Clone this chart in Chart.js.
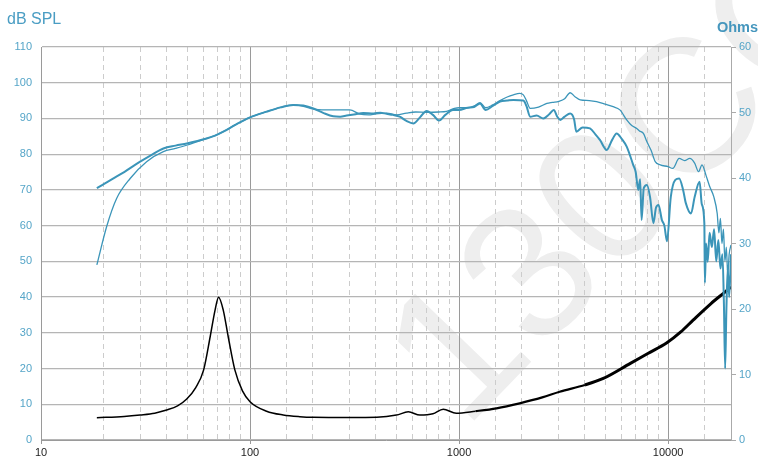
<!DOCTYPE html>
<html>
<head>
<meta charset="utf-8">
<script src="https://cdn.jsdelivr.net/npm/chart.js@4/dist/chart.umd.min.js"></script>
<style>
  html, body { margin: 0; padding: 0; background: #fff; }
  #wrap { width: 758px; height: 457px; position: relative; }
</style>
</head>
<body>
<div id="wrap"><canvas id="spl"></canvas></div>
<script>
// SPL, curve with the shallow bass roll-off (thicker line)
const splAFreq = [18.5, 22, 25, 29.8, 34, 38.5, 44, 49.8, 56, 62, 68, 74.5, 85, 100, 120, 140, 161, 180, 201, 225, 250, 270, 290, 320, 348, 390, 420, 450, 483, 520, 560, 604, 650, 700, 750, 802, 860, 935, 1000, 1100, 1180, 1260, 1340, 1450, 1570, 1700, 1820, 2030, 2100, 2190, 2350, 2530, 2700, 2840, 2950, 3050, 3200, 3400, 3550, 3640, 3900, 4230, 4500, 4720, 5090, 5400, 5670, 6000, 6340, 6810, 7000, 7200, 7350, 7470, 7650, 7920, 8200, 8510, 8750, 9000, 9340, 9600, 9880, 10300, 10830, 11300, 11800, 12160, 12870, 13400, 14150, 14500, 14910, 15000, 15200, 15470, 15800, 16200, 16600, 17000, 17400, 17800, 18200, 18500, 18750, 19000, 19300, 19600, 20000];
const splA = [70.5, 73.1, 75.0, 77.9, 79.9, 81.6, 82.4, 83.0, 83.7, 84.4, 85.2, 86.3, 88.2, 90.3, 91.9, 93.1, 93.8, 93.6, 92.8, 91.5, 90.6, 90.5, 90.8, 91.2, 91.5, 91.4, 91.6, 91.3, 91.0, 90.5, 89.3, 88.6, 90.3, 92.1, 91.0, 89.4, 91.0, 92.4, 92.4, 93.0, 93.2, 94.2, 92.4, 93.5, 94.7, 95.0, 95.2, 95.0, 93.5, 90.5, 90.8, 90.0, 91.2, 92.4, 90.5, 89.6, 90.5, 91.4, 89.8, 86.3, 87.5, 87.2, 85.5, 84.0, 81.2, 84.0, 85.8, 84.3, 82.1, 77.0, 75.0, 70.0, 73.0, 61.6, 70.5, 71.4, 68.0, 60.7, 65.0, 65.8, 61.6, 60.0, 55.6, 68.0, 72.8, 73.2, 70.0, 66.3, 63.4, 68.0, 72.3, 66.0, 60.7, 44.0, 55.0, 49.9, 58.0, 54.0, 59.0, 50.0, 56.0, 48.0, 52.0, 38.0, 20.0, 36.0, 48.0, 40.0, 52.0];

// SPL, curve with the steep bass roll-off (thinner line)
const splBFreq = [18.5, 20.6, 23, 26.7, 32, 38.5, 44, 49.8, 56, 62, 68, 74.5, 85, 100, 120, 140, 161, 180, 201, 230, 260, 300, 336, 370, 400, 450, 503, 560, 620, 700, 800, 870, 950, 1000, 1100, 1180, 1260, 1340, 1450, 1570, 1700, 1820, 1950, 2030, 2100, 2190, 2400, 2630, 2800, 3000, 3200, 3400, 3600, 3800, 4200, 4550, 5000, 5460, 5880, 6340, 6700, 7080, 7300, 7620, 7920, 8300, 8680, 9180, 10000, 10530, 11300, 12000, 12700, 13400, 13990, 14530, 15200, 15800, 16540, 17180, 17500, 17800, 18100, 18400, 18700, 19000, 19300, 19600, 20000];
const splB = [49.0, 59.7, 67.6, 73.2, 77.9, 80.7, 81.6, 82.5, 83.5, 84.4, 85.2, 86.3, 88.2, 90.3, 91.9, 93.1, 93.8, 93.4, 92.6, 92.4, 92.4, 92.4, 91.2, 91.0, 91.3, 91.5, 91.0, 91.5, 91.8, 91.7, 91.8, 92.0, 92.8, 93.0, 93.0, 93.5, 94.4, 93.0, 93.8, 95.0, 96.0, 96.6, 97.0, 96.6, 95.0, 92.8, 93.2, 94.2, 94.5, 94.8, 95.5, 97.2, 96.0, 95.2, 95.0, 94.7, 94.0, 93.3, 92.4, 89.6, 88.0, 87.2, 86.5, 85.8, 83.5, 81.0, 77.9, 77.0, 76.5, 76.0, 78.8, 78.2, 78.8, 77.5, 75.1, 77.0, 74.0, 71.0, 68.1, 63.4, 58.0, 62.0, 55.0, 59.0, 50.0, 54.0, 46.0, 52.0, 54.6];

// impedance (Ohms, right axis)
const impFreq = [18.5, 25, 29.8, 35, 39.9, 45, 49.8, 55, 60, 64.5, 68, 70.7, 74.5, 78.6, 84.6, 92, 100, 120, 144, 173, 201, 300, 404, 502, 572, 650, 750, 840, 970, 1200, 1510, 1950, 2500, 3030, 4000, 4900, 6600, 8000, 9830, 11500, 13170, 16000, 19700, 20000];
const impOhm = [3.41, 3.6, 3.82, 4.1, 4.58, 5.2, 6.25, 8.0, 10.7, 15.8, 19.8, 21.8, 19.8, 15.8, 10.7, 7.5, 5.85, 4.4, 3.82, 3.56, 3.46, 3.42, 3.46, 3.8, 4.3, 3.8, 4.0, 4.7, 4.07, 4.4, 4.84, 5.6, 6.5, 7.37, 8.4, 9.4, 11.7, 13.2, 14.8, 16.5, 18.3, 20.8, 23.2, 23.4];

const decadeLabels = [10, 100, 1000, 10000];

const BLUE = '#3b95b9';
const LABEL = '#55a5c8';

const pts = (xs, ys) => xs.map((x, i) => ({ x: x, y: ys[i] }));
const isDecade = v => decadeLabels.some(d => Math.abs(v - d) < 1e-6);

const backdrop = {
  id: 'backdrop',
  beforeDraw(chart) {
    const ctx = chart.ctx;
    ctx.save();
    ctx.translate(632, 182);
    ctx.rotate(-46 * Math.PI / 180);
    ctx.font = '190px "Liberation Sans", Arial, sans-serif';
    ctx.fillStyle = '#eeeeee';
    ctx.textAlign = 'center';
    ctx.textBaseline = 'middle';
    ctx.fillText('130CC', 0, 0);
    ctx.restore();
  },
  afterDraw(chart) {
    const ctx = chart.ctx;
    ctx.save();
    ctx.fillStyle = '#4a9dc3';
    ctx.font = '16px "Liberation Sans", Arial, sans-serif';
    ctx.textAlign = 'left';
    ctx.fillText('dB SPL', 7, 23.5);
    ctx.font = 'bold 14.5px "Liberation Sans", Arial, sans-serif';
    ctx.fillStyle = '#4596bd';
    ctx.textAlign = 'right';
    ctx.fillText('Ohms', 758, 32);
    ctx.restore();
  }
};

new Chart(document.getElementById('spl'), {
  type: 'line',
  data: {
    datasets: [
      {
        data: pts(splAFreq, splA),
        yAxisID: 'y',
        borderColor: BLUE,
        borderWidth: 2,
        pointRadius: 0,
        cubicInterpolationMode: 'monotone'
      },
      {
        data: pts(splBFreq, splB),
        yAxisID: 'y',
        borderColor: BLUE,
        borderWidth: 1.3,
        pointRadius: 0,
        cubicInterpolationMode: 'monotone'
      },
      {
        data: pts(impFreq, impOhm),
        yAxisID: 'y1',
        borderColor: '#000',
        borderWidth: 1.5,
        pointRadius: 0,
        cubicInterpolationMode: 'monotone',
        segment: {
          borderWidth: c => c.p0.parsed.x >= 4000 ? 3 : (c.p0.parsed.x >= 1000 ? 2.2 : 1.5)
        }
      }
    ]
  },
  options: {
    responsive: true,
    maintainAspectRatio: false,
    animation: false,
    layout: { padding: { top: 47, left: 0, right: 0, bottom: 0 } },
    plugins: { legend: { display: false }, tooltip: { enabled: false } },
    scales: {
      x: {
        type: 'logarithmic',
        min: 10,
        max: 20000,
        afterFit: s => { s.height = 17; },
        ticks: {
          autoSkip: false,
          maxRotation: 0,
          padding: 2,
          color: '#222',
          font: { size: 11, family: '"Liberation Sans", Arial, sans-serif' },
          callback: v => isDecade(v) ? String(v) : ''
        },
        grid: {
          color: c => c.tick && isDecade(c.tick.value) ? '#9a9a9a' : '#cccccc',
          lineWidth: 1,
          tickLength: 4,
          tickColor: c => c.tick && isDecade(c.tick.value) ? '#9a9a9a' : 'rgba(0,0,0,0)'
        },
        border: {
          color: '#9a9a9a',
          dash: c => c.tick && !isDecade(c.tick.value) ? [5, 4] : []
        }
      },
      y: {
        position: 'left',
        min: 0,
        max: 110,
        afterFit: s => { s.width = 41; },
        ticks: {
          stepSize: 10,
          padding: 9,
          color: LABEL,
          font: { size: 11, family: '"Liberation Sans", Arial, sans-serif' }
        },
        grid: { color: '#b5b5b5', lineWidth: 1.2, drawTicks: false },
        border: { color: '#9a9a9a' }
      },
      y1: {
        position: 'right',
        min: 0,
        max: 60,
        afterFit: s => { s.width = 27; },
        ticks: {
          stepSize: 10,
          padding: 3,
          color: LABEL,
          font: { size: 11, family: '"Liberation Sans", Arial, sans-serif' }
        },
        grid: { drawOnChartArea: false, tickLength: 5, tickColor: '#aaaaaa' },
        border: { color: '#aaaaaa' }
      }
    }
  },
  plugins: [backdrop]
});
</script>
</body>
</html>
